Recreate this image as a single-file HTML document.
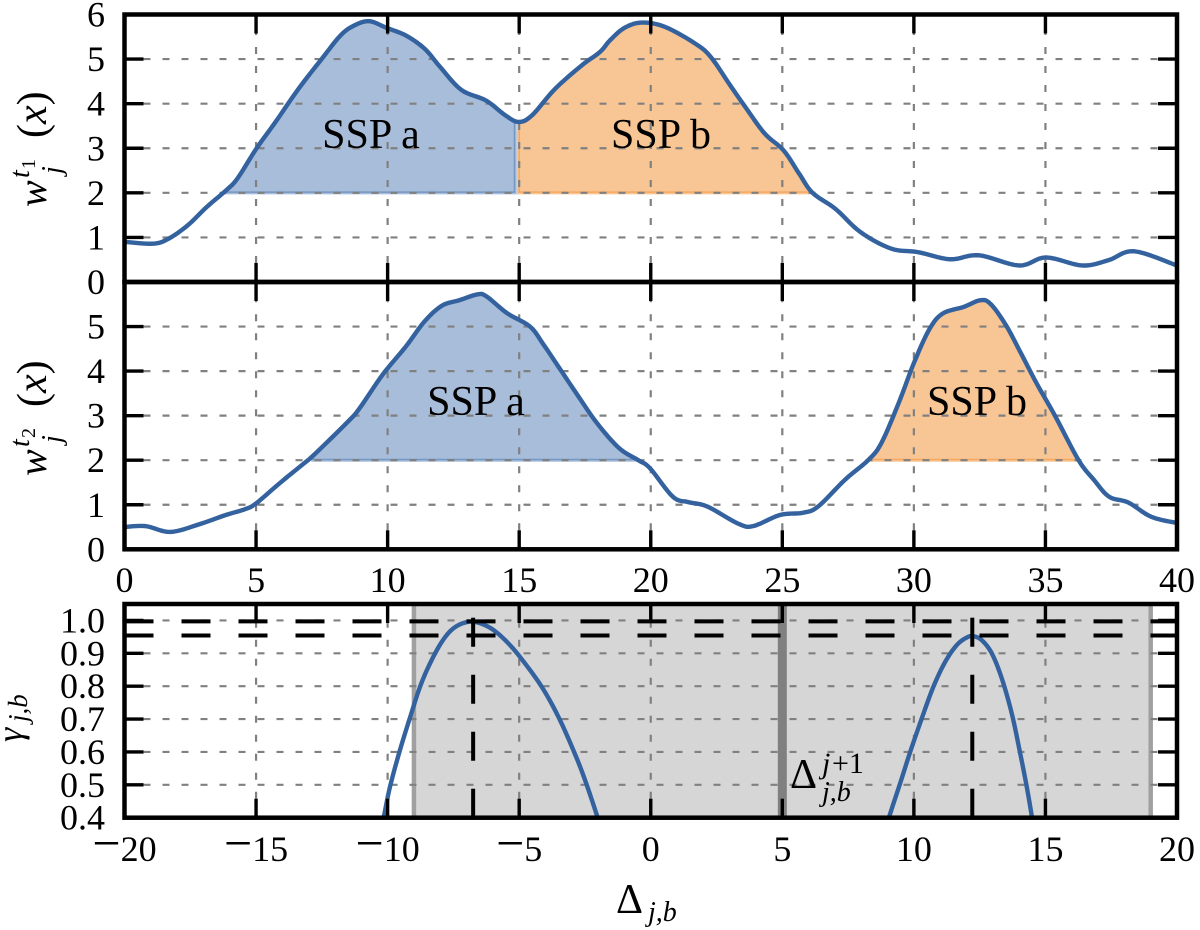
<!DOCTYPE html>
<html lang="en">
<head>
<meta charset="utf-8">
<title>SSP weights and correlation chart</title>
<style>
html,body{margin:0;padding:0;background:#fff;width:1200px;height:930px;overflow:hidden}
svg{display:block}
svg,svg text{font-family:"Liberation Serif","Times New Roman","Noto Serif CJK SC","DejaVu Serif",serif;fill:#000}
.it{font-style:italic}
</style>
</head>
<body>
<svg id="chart" xmlns="http://www.w3.org/2000/svg" width="1200" height="930" viewBox="0 0 1200 930">
<defs>
<clipPath id="clip-top"><rect x="124.5" y="14.5" width="1052.5" height="267.5"/></clipPath>
<clipPath id="clip-mid"><rect x="124.5" y="282" width="1052.5" height="267.3"/></clipPath>
<clipPath id="clip-bot"><rect x="124.5" y="604" width="1052.5" height="213.7"/></clipPath>
</defs>
<g id="layer-marks"></g>

<g transform="translate(46,207) rotate(-90)">
<text class="it" x="0" y="0" font-size="40">w</text>
<text class="it" x="29" y="-17" font-size="28">t</text>
<text x="38" y="-11" font-size="20">1</text>
<text class="it" x="33" y="15" font-size="28">j</text>
<text x="69" y="0" font-size="42">(<tspan class="it">x</tspan>)</text>
</g>
<g transform="translate(46,476) rotate(-90)">
<text class="it" x="0" y="0" font-size="40">w</text>
<text class="it" x="29" y="-17" font-size="28">t</text>
<text x="38" y="-11" font-size="20">2</text>
<text class="it" x="33" y="15" font-size="28">j</text>
<text x="69" y="0" font-size="42">(<tspan class="it">x</tspan>)</text>
</g>
<g transform="translate(22,742) rotate(-90)">
<text class="it" x="0" y="0" font-size="36">γ</text>
<text class="it" x="20" y="5" font-size="27">j,b</text>
</g>

<text x="371" y="148" font-size="42" text-anchor="middle">SSP a</text>
<text x="661" y="148" font-size="42" text-anchor="middle">SSP b</text>
<text x="476" y="415" font-size="42" text-anchor="middle">SSP a</text>
<text x="977" y="415" font-size="42" text-anchor="middle">SSP b</text>

<g>
<text x="790" y="788" font-size="42">Δ</text>
<text class="it" x="822" y="773" font-size="30">j</text>
<text x="832" y="773" font-size="30">+1</text>
<text class="it" x="822" y="801" font-size="28">j,b</text>
</g>
<g>
<text x="616" y="913" font-size="42">Δ</text>
<text class="it" x="648" y="921" font-size="28">j,b</text>
</g>
</svg>

<script>
// ---- data ----
const topX = [0,1.09,1.67,2.4,3.12,3.85,4.29,5.01,5.74,6.61,7.49,8.21,8.72,9.3,9.96,10.69,11.41,12,12.8,13.74,14.47,14.98,15.49,16.36,17.38,18.07,18.45,19.0,19.67,20.55,21.71,22.29,23.02,23.6,24.33,25.05,25.64,26.15,27.02,27.97,29.13,30.15,31.38,32.47,34,35.02,36.4,37.4,38.37,40];
const topY = [0.9,0.86,0.97,1.27,1.68,2.05,2.32,2.99,3.59,4.33,5.0,5.53,5.75,5.85,5.70,5.53,5.23,4.82,4.31,4.07,3.74,3.59,3.74,4.33,4.86,5.16,5.42,5.7,5.82,5.72,5.34,5.04,4.41,3.92,3.33,2.95,2.43,2.0,1.64,1.12,0.75,0.67,0.51,0.60,0.37,0.55,0.37,0.49,0.69,0.37];
const midX = [0,0.8,1.74,2.83,3.85,4.58,5,5.89,6.76,7.2,8.5,8.94,9.81,10.69,11.41,12.07,12.72,13.4,13.75,14.54,15.41,15.92,16.57,17.23,17.96,18.8,19.53,19.97,20.84,21.42,22.15,23.31,23.89,24.91,25.78,26.36,27.38,28.26,28.76,29.42,30,30.58,31.09,31.89,32.52,32.91,33.49,34.07,34.66,35.38,36.26,36.84,37.42,38.15,39.02,40];
const midY = [0.50,0.52,0.39,0.56,0.77,0.90,1.03,1.48,1.90,2.12,2.87,3.17,3.92,4.55,5.12,5.47,5.59,5.72,5.68,5.30,5.0,4.6,4.03,3.45,2.83,2.27,2.0,1.82,1.18,1.06,0.96,0.58,0.52,0.77,0.82,0.96,1.56,2.0,2.38,3.28,4.18,4.93,5.29,5.44,5.59,5.51,5.04,4.40,3.73,2.98,2.0,1.56,1.18,1.05,0.73,0.59];
const gammaLeftX = [-10.25,-10.14,-9.91,-9.53,-9.12,-8.77,-8.39,-7.94,-7.5,-6.99,-6.55,-5.98,-5.35,-4.71,-4.08,-3.45,-2.81,-2.43,-2.05,-1.95];
const gammaLeftY = [0.37,0.405,0.494,0.606,0.712,0.798,0.869,0.935,0.976,0.995,0.993,0.971,0.925,0.862,0.79,0.697,0.58,0.499,0.408,0.38];
const gammaRightX = [8.98,9.07,9.48,9.86,10.30,10.74,11.19,11.63,12.01,12.26,12.58,12.96,13.34,13.72,14.03,14.29,14.48,14.53];
const gammaRightY = [0.375,0.405,0.505,0.6,0.702,0.798,0.874,0.925,0.948,0.952,0.94,0.9,0.824,0.717,0.6,0.494,0.405,0.375];
const topRegions = [[3.9,14.85],[14.97,26.15]];
const midRegions = [[7.15,19.5],[28.2,36.3]];
const fillLevel = 2;
const shadeRange = [-9,19];
const shadeDivider = 5;
const peakLevels = [0.997,0.954];
const peakXs = [-6.75,12.22];
const peakTop = 1.01;
const weightXTicks = [0,5,10,15,20,25,30,35,40];
const weightYTicks = [0,1,2,3,4,5,6];
const gammaXTicks = [-20,-15,-10,-5,0,5,10,15,20];
const gammaYTicks = [0.4,0.5,0.6,0.7,0.8,0.9,1.0];

// ---- axes ----
const L = 124.5, R = 1177;
const sxW = v => L + (v - 0) / 40 * (R - L);
const sxG = v => L + (v + 20) / 40 * (R - L);
const syT = v => 282 - (v / 6) * 267.5;
const syM = v => 549.3 - (v / 6) * 267.3;
const syG = v => 817.7 - ((v - 0.4) / 0.65) * 213.7;

const NS = 'http://www.w3.org/2000/svg';
const root = document.getElementById('layer-marks');
function mk(tag, attrs, parent) {
  const el = document.createElementNS(NS, tag);
  for (const k in attrs) el.setAttribute(k, attrs[k]);
  (parent || root).appendChild(el);
  return el;
}
// Catmull-Rom smoothing of the read data into dense samples
function smooth(xs, ys) {
  const out = [];
  for (let i = 0; i < xs.length - 1; i++) {
    const i0 = Math.max(i - 1, 0), i3 = Math.min(i + 2, xs.length - 1);
    for (let s = 0; s < 8; s++) {
      const t = s / 8, t2 = t * t, t3 = t2 * t;
      const f = (a, b, c, d) => 0.5 * (2 * b + (c - a) * t + (2 * a - 5 * b + 4 * c - d) * t2 + (3 * b - a - 3 * c + d) * t3);
      out.push([f(xs[i0], xs[i], xs[i + 1], xs[i3]), f(ys[i0], ys[i], ys[i + 1], ys[i3])]);
    }
  }
  out.push([xs[xs.length - 1], ys[ys.length - 1]]);
  return out;
}
const pts = (arr, sx, sy) => arr.map(p => sx(p[0]).toFixed(2) + ',' + sy(p[1]).toFixed(2)).join(' ');
function valueAt(samples, x) {
  for (let i = 0; i < samples.length - 1; i++) {
    if (samples[i][0] <= x && samples[i + 1][0] >= x) {
      const t = (x - samples[i][0]) / ((samples[i + 1][0] - samples[i][0]) || 1);
      return samples[i][1] + t * (samples[i + 1][1] - samples[i][1]);
    }
  }
  return fillLevel;
}

const BLUE = '#33629f', GRID = '#808080', LINE_W = 4.4;

function regionFill(samples, range, color, sy) {
  const inner = samples.filter(p => p[0] > range[0] && p[0] < range[1]);
  const poly = [[range[0], fillLevel], [range[0], Math.max(valueAt(samples, range[0]), fillLevel)]]
    .concat(inner.map(p => [p[0], Math.max(p[1], fillLevel)]))
    .concat([[range[1], Math.max(valueAt(samples, range[1]), fillLevel)], [range[1], fillLevel]]);
  return mk('polygon', {points: pts(poly, sxW, sy), fill: color, stroke: color, 'stroke-width': 3});
}
function gridV(x, y0, y1) {
  return mk('line', {x1: x, x2: x, y1: y0, y2: y1, stroke: GRID, 'stroke-width': 2.2, 'stroke-dasharray': '7 12'});
}
function gridH(y) {
  return mk('line', {x1: L, x2: R, y1: y, y2: y, stroke: GRID, 'stroke-width': 2.2, 'stroke-dasharray': '7 12'});
}
function tick(x1, y1, x2, y2) {
  return mk('line', {x1, y1, x2, y2, stroke: '#000', 'stroke-width': 3.4});
}
function frame(y0, y1) {
  return mk('rect', {x: L, y: y0, width: R - L, height: y1 - y0, fill: 'none', stroke: '#000', 'stroke-width': 4.5});
}
function label(x, y, str, anchor) {
  return mk('text', {x, y, 'font-size': 36, 'text-anchor': anchor});
}

// ---- weight panels ----
function weightPanel(name, xs, ys, regions, sy, yTop, yBot, clip, showX) {
  const samples = smooth(xs, ys);
  const colors = ['rgba(48,98,165,0.42)', 'rgba(241,139,41,0.5)'];
  regions.forEach((r, i) => {
    const f = regionFill(samples, r, colors[i], sy);
    
    
  });
  weightXTicks.slice(1, -1).forEach(v => {
    const g = gridV(sxW(v), yBot, yTop);
    
    
  });
  weightYTicks.slice(1, -1).forEach(v => {
    const g = gridH(sy(v));
    
    
  });
  const line = mk('polyline', {points: pts(samples, sxW, sy), fill: 'none', stroke: BLUE, 'stroke-width': LINE_W, 'stroke-linejoin': 'round', 'clip-path': 'url(#' + clip + ')'});
  
  
  weightXTicks.slice(1, -1).forEach(v => {
    const a = tick(sxW(v), yBot, sxW(v), yBot - 19);
    
    
    const b = tick(sxW(v), yTop, sxW(v), yTop + 19);
    
    
  });
  weightYTicks.slice(1, -1).forEach(v => {
    const a = tick(L, sy(v), L + 19, sy(v));
    
    
    const b = tick(R, sy(v), R - 19, sy(v));
    
    
  });
  weightYTicks.forEach(v => {
    if (name === 'middle-panel' && v === 6) return;
    const t = label(105, sy(v) + 12, v, 'end');
    t.textContent = String(v);
    
    
  });
  const fr = frame(yTop, yBot);
  
  
  if (showX) {
    weightXTicks.forEach(v => {
      const t = label(sxW(v), 592, v, 'middle');
      t.textContent = String(v);
      
      
    });
  }
}
weightPanel('top-panel', topX, topY, topRegions, syT, 14.5, 282, 'clip-top', false);
weightPanel('middle-panel', midX, midY, midRegions, syM, 282, 549.3, 'clip-mid', true);

// ---- gamma panel ----
const shade = mk('rect', {x: sxG(shadeRange[0]), y: 604, width: sxG(shadeRange[1]) - sxG(shadeRange[0]), height: 213.7, fill: '#d6d6d6'});


shadeRange.forEach(v => {
  const e = mk('line', {x1: sxG(v), x2: sxG(v), y1: 604, y2: 817.7, stroke: '#a0a0a0', 'stroke-width': 4.5});
  
  
});
const divider = mk('line', {x1: sxG(shadeDivider), x2: sxG(shadeDivider), y1: 604, y2: 817.7, stroke: '#808080', 'stroke-width': 9});



gammaXTicks.slice(1, -1).forEach(v => {
  const g = gridV(sxG(v), 817.7, 604);
  
  
});
gammaYTicks.slice(1).forEach(v => {
  const g = gridH(syG(v));
  
  
});

const gammaA = mk('polyline', {points: pts(smooth(gammaLeftX, gammaLeftY), sxG, syG), fill: 'none', stroke: BLUE, 'stroke-width': LINE_W, 'clip-path': 'url(#clip-bot)'});


const gammaB = mk('polyline', {points: pts(smooth(gammaRightX, gammaRightY), sxG, syG), fill: 'none', stroke: BLUE, 'stroke-width': LINE_W, 'clip-path': 'url(#clip-bot)'});



peakLevels.forEach((v, i) => {
  const h = mk('line', {x1: L, x2: R, y1: syG(v), y2: syG(v), stroke: '#000', 'stroke-width': 4, 'stroke-dasharray': '29 28', 'clip-path': 'url(#clip-bot)'});
  
  
});
peakXs.forEach((v, i) => {
  const p = mk('line', {x1: sxG(v), x2: sxG(v), y1: 817.7, y2: syG(peakTop), stroke: '#000', 'stroke-width': 4, 'stroke-dasharray': '29 28'});
  
  
});

gammaXTicks.slice(1, -1).forEach(v => {
  const a = tick(sxG(v), 817.7, sxG(v), 817.7 - 19);
  
  
  const b = tick(sxG(v), 604, sxG(v), 623);
  
  
});
gammaYTicks.slice(1).forEach(v => {
  const a = tick(L, syG(v), L + 19, syG(v));
  
  
  const b = tick(R, syG(v), R - 19, syG(v));
  
  
});
gammaYTicks.forEach(v => {
  const t = label(105, syG(v) + 12, v, 'end');
  t.textContent = v.toFixed(1);
  
  
});
const gammaFrame = frame(604, 817.7);


gammaXTicks.forEach(v => {
  const t = label(sxG(v), 861, v, 'middle');
  if (v < 0) {
    const m = document.createElementNS(NS, 'tspan');
    m.setAttribute('font-size', '50');
    m.setAttribute('dy', '-1');
    m.textContent = '\u2212';
    t.appendChild(m);
    const d = document.createElementNS(NS, 'tspan');
    d.setAttribute('dy', '1');
    d.textContent = String(-v);
    t.appendChild(d);
  } else {
    t.textContent = String(v);
  }
  
  
});
</script>
</body>
</html>
